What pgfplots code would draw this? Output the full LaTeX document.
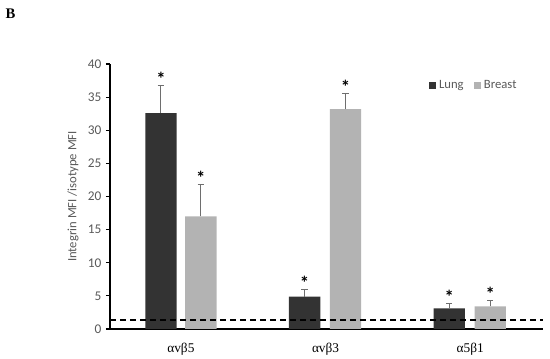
\documentclass[border=0pt]{standalone}
\usepackage{pgfplots}
\pgfplotsset{compat=1.18}
\usepackage{fontspec}
\setmainfont{Carlito}
\newfontfamily\seriffont{Liberation Serif}
\definecolor{lung}{HTML}{333333}
\definecolor{breast}{HTML}{B3B3B3}
\definecolor{txt}{HTML}{595959}
\definecolor{errc}{HTML}{6E6E6E}
\begin{document}
\begin{tikzpicture}[x=1pt,y=1pt]
\useasboundingbox (0,0) rectangle (412.5,269.25);
\node[anchor=base west, font=\seriffont\bfseries\fontsize{11}{13}\selectfont, inner sep=0pt] at (4,255.5) {B};
\begin{axis}[
  at={(82.5pt,22.5pt)}, anchor=south west,
  scale only axis, width=324.75pt, height=198.75pt,
  xmin=-0.49, xmax=2.503, ymin=0, ymax=40,
  axis x line*=bottom, axis y line*=left,
  axis line style={black, line width=0.9pt},
  xtick={0,1,2}, xticklabels={αvβ5,αvβ3,α5β1},
  x tick label style={font=\seriffont\fontsize{10}{12}\selectfont, text=black, yshift=-4pt},
  major x tick style={draw=none},
  ytick={0,5,...,40}, tick align=outside, major tick length=3pt,
  major y tick style={black, line width=0.8pt},
  y tick label style={font=\fontsize{10}{12}\selectfont, text=txt},
  /pgf/number format/assume math mode=true,
  ylabel={Integrin MFI /isotype MFI},
  ylabel style={font=\fontsize{9.5}{11}\selectfont, text=txt},
  bar width=23.5pt,
  legend style={at={(0.728,0.92)}, anchor=west, draw=none, fill=none,
    legend columns=2, font=\fontsize{9.5}{11}\selectfont, text=txt,
    /tikz/every even column/.append style={column sep=6pt}},
  legend image code/.code={\fill[#1] (0pt,-2.6pt) rectangle (5.2pt,2.6pt);},
  error bars/error bar style={errc, line width=0.7pt},
  error bars/error mark options={rotate=90, mark size=2.4pt, errc, line width=0.7pt},
]
\addplot[ybar, bar shift=0pt, fill=lung, draw=none,
  error bars/.cd, y dir=plus, y explicit]
  coordinates {(-0.138,32.6) +- (0,4.2) (0.855,4.9) +- (0,1.0) (1.855,3.1) +- (0,0.7)};
\addlegendentry{Lung}
\addplot[ybar, bar shift=0pt, fill=breast, draw=none,
  error bars/.cd, y dir=plus, y explicit]
  coordinates {(0.138,17.0) +- (0,4.8) (1.138,33.2) +- (0,2.4) (2.138,3.4) +- (0,0.9)};
\addlegendentry{Breast}
\addplot[draw=none, mark=none, forget plot,
  nodes near coords={\fontsize{14}{14}\selectfont\bfseries *},
  every node near coord/.append style={anchor=center, yshift=5pt, text=black, inner sep=0pt}]
  coordinates {(-0.138,36.8) (0.855,5.9) (1.855,3.8) (0.138,21.8) (1.138,35.6) (2.138,4.3)};
\addplot[black, dashed, line width=0.8pt, dash pattern=on 4.5pt off 3pt, forget plot]
  coordinates {(-0.49,1.36) (2.503,1.36)};
\end{axis}
\end{tikzpicture}
\end{document}
